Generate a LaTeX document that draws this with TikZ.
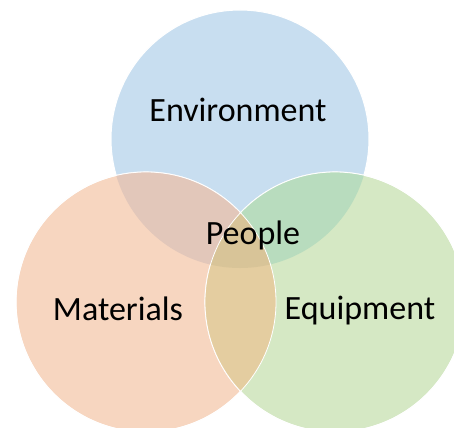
\documentclass[tikz,border=0pt]{standalone}
\usepackage{fontspec}
\setmainfont{Carlito}
\usepackage{tikz}

\definecolor{envblue}{RGB}{200,222,240}
\definecolor{matorange}{RGB}{247,214,192}
\definecolor{equgreen}{RGB}{213,232,196}
\definecolor{envmat}{RGB}{226,199,186}
\definecolor{envequ}{RGB}{184,220,190}
\definecolor{matequ}{RGB}{228,205,160}
\definecolor{allthree}{RGB}{216,196,152}

\begin{document}
\begin{tikzpicture}[x=0.75pt,y=0.75pt,yscale=-1,xscale=1,
  venn/.style={draw=white, line width=0.8pt},
  lbl/.style={anchor=base, inner sep=0.75pt, font=\fontsize{25.5}{30}\selectfont}]
\useasboundingbox (0,0) rectangle (454,428);

% circles, back to front
\draw [venn, fill=envblue]   (240,139) circle [radius=129];
\draw [venn, fill=matorange] (146,302) circle [radius=130];
\draw [venn, fill=equgreen]  (335,302) circle [radius=130];

% overlaps
\begin{scope}
  \clip (240,139) circle [radius=129];
  \fill [envmat] (146,302) circle [radius=130];
  \fill [envequ] (335,302) circle [radius=130];
\end{scope}
\begin{scope}
  \clip (146,302) circle [radius=130];
  \fill [matequ] (335,302) circle [radius=130];
  \clip (335,302) circle [radius=130];
  \fill [allthree] (240,139) circle [radius=129];
\end{scope}

% white rims on top
\draw [venn, line width=0.6pt] (146,302) circle [radius=130];
\draw [venn, line width=0.6pt] (335,302) circle [radius=130];

% Text Nodes
\node (env) [lbl] at (238,122) {Environment};
\node (ppl) [lbl] at (253,244) {People};
\node (mat) [lbl] at (118,320) {Materials};
\node (equ) [lbl] at (360,319) {Equipment};

\end{tikzpicture}
\end{document}
